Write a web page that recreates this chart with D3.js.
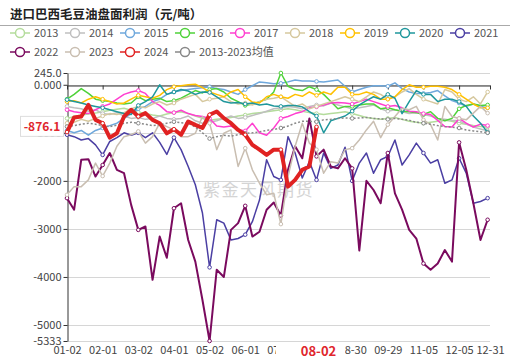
<!DOCTYPE html>
<html><head><meta charset="utf-8">
<script src="https://cdn.jsdelivr.net/npm/d3@7"></script>
<style>body{margin:0;background:#fff}svg{display:block}</style>
</head><body><svg id="c" width="512" height="359"></svg>
<script>
const FONT = '"Noto Sans CJK SC","Noto Sans",sans-serif';
const title = "进口巴西毛豆油盘面利润（元/吨）";
const watermark = "紫金天风期货";
const seriesNames = ["2013","2014","2015","2016","2017","2018","2019","2020","2021","2022","2023","2024","2013-2023均值"];
const seriesColors = ["#b4dc9c","#bfbfbf","#6fa8dc","#4fd23a","#ff3fd0","#d6c89e","#ffc000","#1f979c","#4b3fa3","#7a0a5e","#c9beb1","#e02222","#888888"];
const xTickIndex = [0,30,60,90,120,150,180,210,240,270,300,330,356];
// the label at 07-31 is covered by the axis-pointer label in the reference
const xTickLabels = ["01-02","02-01","03-02","04-01","05-02","06-01","07-01","","08-30","09-29","11-05","12-05","12-31"];
const yTicks = [245,0,-1000,-2000,-3000,-4000,-5000,-5333];
const yTickLabels = ["245.0","0.000","-1000","-2000","-3000","-4000","-5000","-5333"];
const sampleStep = 6; // categories between stored samples
const pointerIndex = 210, pointerLabel = "08-02", pointerValue = -876.1;

const v2013 = [-700,-660,-630,-610,-590,-560,-530,-510,-490,-530,-570,-600,-630,-650,-610,-580,-560,-600,-650,-700,-740,-720,-700,-680,-650,-630,-600,-580,-560,-540,-520,-500,-520,-550,-580,-600,-620,-600,-580,-560,-600,-640,-680,-700,-720,-700,-680,-720,-760,-780,-800,-780,-760,-740,-760,-800,-820,-850,-870,-880];
const v2014 = [-450,-480,-500,-550,-520,-600,-620,-580,-650,-700,-680,-720,-700,-650,-700,-720,-700,-650,-750,-800,-780,-750,-700,-650,-700,-680,-640,-600,-550,-500,-480,-450,-470,-500,-450,-420,-440,-380,-420,-460,-500,-480,-450,-420,-500,-550,-520,-560,-600,-580,-620,-650,-700,-720,-740,-750,-820,-880,-920,-960];
const v2015 = [-950,-1000,-950,-1050,-950,-900,-850,-800,-700,-600,-500,-450,-350,-300,-200,-150,-120,-100,-80,-60,-40,-80,-100,-150,-200,-100,-20,60,40,20,30,60,100,80,80,70,60,80,100,-30,-150,-100,-50,-20,-20,-30,40,-80,-150,-180,-180,-160,-120,-230,-330,-380,-450,-400,-450,-480];
const v2016 = [-300,-200,-80,-180,-300,-330,-350,-380,-400,-380,-250,-330,-300,-280,-350,-330,-280,-200,-120,-170,-100,-80,-150,-280,-350,-430,-400,-350,-300,-150,245,-30,-100,-120,-40,-100,-200,-350,-500,-450,-450,-420,-400,-400,-500,-480,-520,-550,-560,-580,-620,-560,-700,-750,-700,-500,-430,-400,-430,-420];
const v2017 = [-520,-560,-580,-600,-520,-450,-400,-300,-200,-150,-120,-180,-350,-430,-560,-580,-530,-600,-640,-660,-700,-860,-880,-860,-930,-960,-800,-1000,-1050,-900,-700,-660,-600,-560,-480,-460,-420,-380,-370,-380,-400,-350,-300,-350,-400,-450,-430,-480,-550,-560,-600,-620,-740,-870,-880,-700,-800,-880,-820,-850];
const v2018 = [-800,-780,-720,-760,-700,-650,-600,-620,-580,-500,-450,-480,-400,-350,-420,-380,-300,-250,-200,-350,-300,-280,-250,-350,-400,-380,-420,-350,-300,-280,-250,-350,-450,-400,-500,-450,-400,-350,-300,-250,-300,-350,-250,-150,-200,-300,-250,-150,-80,-200,-300,-350,-400,-100,-150,-300,-350,-250,-400,-150];
const v2019 = [-350,-330,-380,-300,-250,-300,-350,-400,-380,-300,-220,-250,-280,-220,-100,-40,-20,0,10,-60,-150,-200,-250,-150,-100,-250,-360,-380,-250,-200,-250,-280,-200,-240,-150,-220,-150,-200,-50,-50,-200,-200,-150,-200,-300,-300,-250,-100,0,-50,-50,-30,-30,-50,-100,-200,-300,-400,-480,-480];
const v2020 = [-310,-350,-380,-420,-450,-480,-520,-560,-600,-620,-430,-350,-250,0,-200,-150,-100,-130,-200,-150,-160,-250,-350,-380,-370,-400,-380,-420,-400,-440,-450,-430,-430,-460,-560,-650,-1000,-750,-700,-650,-550,-420,-330,-250,-300,-200,-280,-600,-350,-120,-200,-200,-350,-300,-300,-350,-450,-650,-800,-990];
const v2021 = [-1040,-1080,-1150,-1120,-1250,-1460,-1180,-1100,-1000,-1050,-1000,-1100,-1000,-1200,-1450,-1100,-1350,-1700,-2080,-2670,-3800,-2810,-2880,-3230,-3200,-3120,-2850,-2400,-1560,-1910,-1980,-1080,-1420,-1940,-1600,-1980,-1420,-1740,-1670,-1300,-2000,-1630,-1420,-1840,-1560,-1490,-1150,-1670,-1460,-1215,-1420,-1630,-1560,-2050,-1980,-1530,-1840,-2465,-2430,-2360];
const v2022 = [-2360,-2600,-1560,-1550,-1910,-1670,-1420,-1770,-1840,-2500,-3020,-2950,-4060,-3160,-3600,-2570,-2465,-3230,-3680,-4480,-5333,-3850,-4000,-3020,-2880,-2520,-3160,-3060,-2600,-2450,-2720,-1770,-1280,-1530,-700,-1490,-1350,-1700,-1740,-1530,-1740,-3450,-2000,-2190,-2465,-1420,-2260,-2600,-3020,-3200,-3720,-3850,-3720,-3440,-3680,-1200,-1770,-2465,-3230,-2810];
const v2023 = [-2290,-2120,-2120,-1980,-1630,-1900,-1630,-1280,-1080,-1040,-970,-1215,-1080,-800,-870,-940,-1080,-1080,-1010,-660,-800,-1350,-1010,-940,-1700,-1320,-1770,-2050,-2290,-2260,-2900,-1910,-1280,-800,-1215,-1350,-1840,-1600,-1630,-1350,-1320,-1150,-940,-760,-1100,-830,-660,-490,-520,-450,-730,-830,-1150,-450,-660,-700,-730,-590,-450,-590];
const v2024 = [-985,-680,-660,-420,-730,-800,-1100,-1010,-660,-520,-660,-590,-730,-800,-1010,-925,-1040,-765,-835,-900,-625,-555,-695,-800,-940,-1040,-1250,-1350,-1460,-1350,-1350,-2120,-1980,-1770,-1700,-876.1];
const vMean = [-870,-850,-820,-800,-820,-850,-870,-840,-800,-780,-800,-820,-850,-830,-800,-770,-790,-800,-880,-1000,-1120,-1080,-1050,-1070,-1040,-1010,-1000,-980,-950,-930,-900,-860,-800,-760,-760,-770,-730,-720,-700,-690,-700,-690,-680,-700,-710,-720,-700,-720,-740,-780,-800,-820,-850,-870,-880,-900,-940,-960,-980,-1000];

const seriesValues = [v2013,v2014,v2015,v2016,v2017,v2018,v2019,v2020,v2021,v2022,v2023,v2024,vMean];
const seriesWidths = [1.5,1.5,1.5,1.5,1.5,1.5,1.5,1.5,1.5,2,1.5,4,1.5];
const drawOrder = [0,1,2,3,4,5,6,7,8,9,10,12,11];

const svg = d3.select("#c").attr("font-family", FONT);
const x = d3.scaleLinear().domain([0, 356]).range([67, 490]);
const y = d3.scaleLinear().domain([-5333, 245]).range([341, 73]);

// title
svg.append("text").attr("x",10).attr("y",19).text(title)
  .attr("font-size",12.5).attr("font-weight","bold").attr("fill","#222");
svg.append("line").attr("x1",0).attr("x2",510).attr("y1",25.5).attr("y2",25.5).attr("stroke","#aaa");

// legend
seriesNames.forEach((name,i)=>{
  const row = i < 9 ? 0 : 1, col = i < 9 ? i : i - 9;
  const x0 = 10 + col*55, yy = row === 0 ? 33 : 52;
  const g = svg.append("g");
  g.append("line").attr("x1",x0).attr("x2",x0+20).attr("y1",yy).attr("y2",yy)
    .attr("stroke",seriesColors[i]).attr("stroke-width",1.5);
  g.append("circle").attr("cx",x0+10).attr("cy",yy).attr("r",4.5)
    .attr("fill","#fff").attr("stroke",seriesColors[i]).attr("stroke-width",1.5);
  g.append("text").attr("x",x0+24).attr("y",yy).attr("dy","0.36em")
    .attr("font-size",11).attr("fill","#555").text(name);
});

// grid
svg.append("g").selectAll("line").data(yTicks).join("line")
  .attr("x1",67).attr("x2",490)
  .attr("y1",d=>Math.round(y(d))+0.5).attr("y2",d=>Math.round(y(d))+0.5)
  .attr("stroke","#d6d6d6");

// watermark
svg.append("text").attr("x",203).attr("y",196).text(watermark)
  .attr("font-size",17).attr("letter-spacing",1.5).attr("fill","#d4d4d4");

// y axis
const ya = svg.append("g").attr("transform","translate(67.5,0)")
  .call(d3.axisLeft(y).tickValues(yTicks).tickFormat((d,i)=>yTickLabels[i]).tickSize(4).tickSizeOuter(0).tickPadding(2));
ya.attr("font-family",FONT);
ya.select(".domain").attr("stroke","#333");
ya.selectAll(".tick line").attr("stroke","#333");
ya.selectAll("text").attr("font-size",11).attr("fill","#444");

// x axis on zero line
const xa = svg.append("g").attr("transform",`translate(0,${Math.round(y(0))+0.5})`)
  .call(d3.axisBottom(x).tickValues(xTickIndex).tickFormat("").tickSize(4).tickSizeOuter(0));
xa.select(".domain").attr("stroke","#333");
xa.selectAll(".tick line").attr("stroke","#333");

// x labels at bottom
const xl = svg.append("g").attr("transform","translate(0,341)")
  .call(d3.axisBottom(x).tickValues(xTickIndex).tickFormat((d,i)=>xTickLabels[i]).tickSize(0).tickPadding(5));
xl.attr("font-family",FONT);
xl.select(".domain").remove();
xl.selectAll("text").attr("font-size",11).attr("fill","#444");

// series
const line = d3.line().x(d=>x(d[0])).y(d=>y(d[1]));
drawOrder.forEach(i=>{
  const pts = seriesValues[i].map((v,k)=>[k*sampleStep, v]);
  const g = svg.append("g");
  g.append("path").datum(pts).attr("d",line).attr("fill","none")
    .attr("stroke",seriesColors[i]).attr("stroke-width",seriesWidths[i])
    .attr("stroke-linejoin","round")
    .attr("stroke-dasharray", i === 12 ? "2,2" : null);
  const marks = pts.filter((p,k)=>k%5===0 || k===pts.length-1);
  g.selectAll("circle").data(marks).join("circle")
    .attr("cx",d=>x(d[0])).attr("cy",d=>y(d[1])).attr("r",1.8)
    .attr("fill","#fff").attr("stroke",seriesColors[i]).attr("stroke-width",1);
});

// axis pointer labels
const py = y(pointerValue);
svg.append("rect").attr("x",20.5).attr("y",py-10.5).attr("width",43).attr("height",20)
  .attr("fill","#fff").attr("stroke","#ddd");
svg.append("text").attr("x",42).attr("y",py).attr("dy","0.36em").attr("text-anchor","middle")
  .attr("font-size",12).attr("font-weight","bold").attr("fill","#e0262d").text(pointerValue.toFixed(1));
svg.append("rect").attr("x",276).attr("y",343).attr("width",69).attr("height",16).attr("fill","#fff");
svg.append("text").attr("x",x(pointerIndex)+2).attr("y",351).attr("dy","0.36em").attr("text-anchor","middle")
  .attr("font-size",13).attr("font-weight","bold").attr("fill","#e0262d").text(pointerLabel);
</script></body></html>
